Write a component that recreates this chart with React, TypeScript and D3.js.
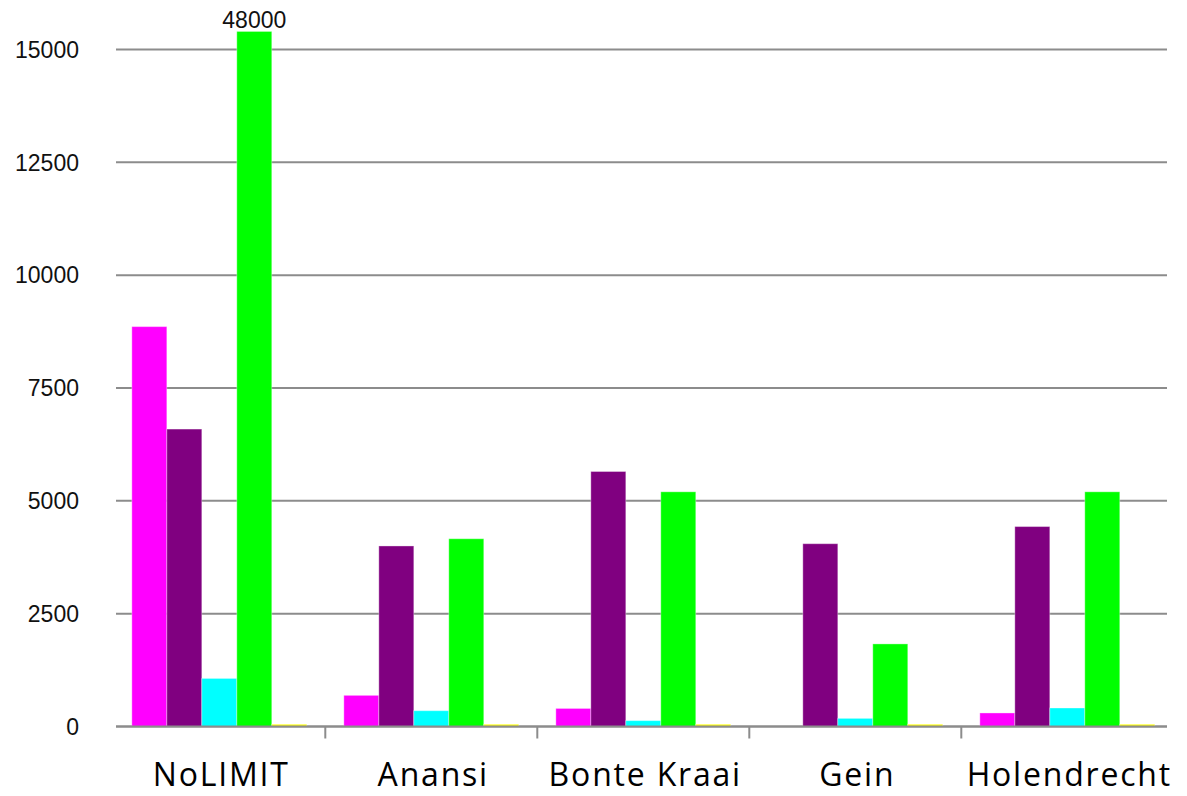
import React, { useEffect, useRef } from 'react';
import * as d3 from 'd3';

const categories = ['NoLIMIT', 'Anansi', 'Bonte Kraai', 'Gein', 'Holendrecht'];
const seriesNames = ['s1', 's2', 's3', 's4', 's5'];
const seriesColors = ['#ff00ff', '#800080', '#00ffff', '#00ff00', '#ffff00'];
const s1 = [8860, 690, 400, 0, 300];
const s2 = [6590, 4000, 5650, 4050, 4430];
const s3 = [1065, 350, 130, 180, 410];
const s4 = [48000, 4160, 5200, 1830, 5200];
const s5 = [50, 50, 50, 50, 50];
const yTicks = [0, 2500, 5000, 7500, 10000, 12500, 15000];
const capValue = 15400;

const W = 1187;
const H = 796;

const App = () => {
  const svgRef = useRef<SVGSVGElement>(null);

  useEffect(() => {
    const svg = d3.select(svgRef.current);
    svg.selectAll('*').remove();

    const values = [s1, s2, s3, s4, s5];
    const x = d3.scaleBand().domain(categories).range([113.3, 1173.3]).padding(0);
    const xs = d3.scaleBand().domain(seriesNames).range([0, x.bandwidth()]).paddingInner(0).paddingOuter(0.53);
    const y = d3.scaleLinear().domain([0, 15000]).range([726.5, 49.5]);
    const axisLeft = 116;
    const axisRight = 1167;

    // gridlines
    svg.append('g')
      .selectAll('line')
      .data(yTicks)
      .join('line')
      .attr('x1', axisLeft)
      .attr('x2', axisRight)
      .attr('y1', (d) => y(d))
      .attr('y2', (d) => y(d))
      .attr('stroke', '#8c8c8c')
      .attr('stroke-width', 2);

    svg.append('g')
      .selectAll('text')
      .data(yTicks)
      .join('text')
      .attr('x', 79)
      .attr('y', (d) => y(d))
      .attr('dy', '0.36em')
      .attr('text-anchor', 'end')
      .attr('font-family', 'Liberation Sans, Arial, sans-serif')
      .attr('font-size', 23)
      .attr('fill', '#111')
      .text((d) => String(d));

    // bars
    const bars = svg.append('g');
    values.forEach((vals, si) => {
      bars.append('g')
        .selectAll('rect')
        .data(vals.map((v, ci) => ({ v, c: categories[ci] })))
        .join('rect')
        .attr('x', (d) => (x(d.c) as number) + (xs(seriesNames[si]) as number))
        .attr('width', xs.bandwidth())
        .attr('y', (d) => y(Math.min(d.v, capValue)))
        .attr('height', (d) => y(0) - y(Math.min(d.v, capValue)))
        .attr('fill', seriesColors[si])
        .attr('stroke', 'rgba(255,255,255,0.35)')
        .attr('stroke-width', 1);

      bars.append('g')
        .selectAll('text')
        .data(vals.map((v, ci) => ({ v, c: categories[ci] })).filter((d) => d.v > capValue))
        .join('text')
        .attr('x', (d) => (x(d.c) as number) + (xs(seriesNames[si]) as number) + xs.bandwidth() / 2)
        .attr('y', y(capValue) - 3)
        .attr('text-anchor', 'middle')
        .attr('font-family', 'Liberation Sans, Arial, sans-serif')
        .attr('font-size', 23)
        .attr('fill', '#111')
        .text((d) => String(d.v));
    });

    // x axis
    svg.append('line')
      .attr('x1', axisLeft)
      .attr('x2', axisRight)
      .attr('y1', y(0))
      .attr('y2', y(0))
      .attr('stroke', '#8c8c8c')
      .attr('stroke-width', 2);

    svg.append('g')
      .selectAll('line')
      .data(categories.slice(1))
      .join('line')
      .attr('x1', (d) => x(d) as number)
      .attr('x2', (d) => x(d) as number)
      .attr('y1', y(0))
      .attr('y2', y(0) + 12)
      .attr('stroke', '#8c8c8c')
      .attr('stroke-width', 2);

    svg.append('g')
      .selectAll('text')
      .data(categories)
      .join('text')
      .attr('x', (d) => (x(d) as number) + x.bandwidth() / 2 + 2)
      .attr('y', 786)
      .attr('text-anchor', 'middle')
      .attr('font-family', 'Open Sans, sans-serif')
      .attr('font-size', 32)
      .attr('letter-spacing', 1.8)
      .attr('fill', '#000')
      .text((d) => d);
  }, []);

  return (
    <svg
      ref={svgRef}
      width={W}
      height={H}
      style={{ position: 'absolute', left: 0, top: 0, background: '#fff' }}
    />
  );
};

export default App;
